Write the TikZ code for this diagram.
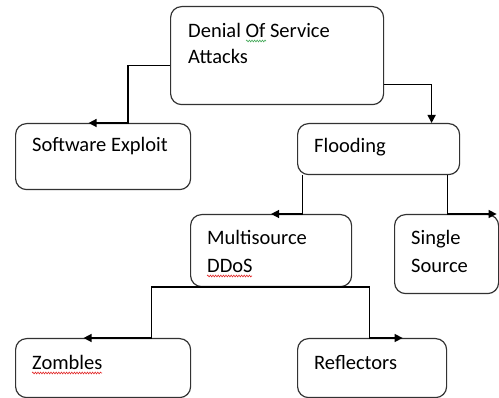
\documentclass[tikz,border=0pt]{standalone}
\usepackage{fontspec}
\setmainfont{Carlito}
\usetikzlibrary{arrows.meta,decorations.pathmorphing,calc}
\definecolor{boxline}{RGB}{50,50,50}
\definecolor{spellgreen}{RGB}{70,170,90}
\definecolor{spellred}{RGB}{225,40,40}
\tikzset{
  box/.style={draw=boxline, line width=1.2pt, rounded corners=11pt,
    anchor=north west, inner sep=0pt},
  txt/.style={anchor=base west, inner sep=0pt, font=\fontsize{20.5}{24}\selectfont},
  conn/.style={draw=black, line width=1.5pt, -{Triangle[length=8pt,width=8pt]}},
  squiggle/.style={line width=0.6pt, decorate,
    decoration={snake, amplitude=0.9pt, segment length=2.6pt}}
}
\begin{document}
\begin{tikzpicture}[x=1pt,y=-1pt]
  \useasboundingbox (0,0) rectangle (499,398);

  % boxes
  \node[box, minimum width=213pt, minimum height=98pt] (dos)   at (170,6)   {};
  \node[box, minimum width=175pt, minimum height=66pt] (sw)    at (15,123)  {};
  \node[box, minimum width=162pt, minimum height=51pt] (flood) at (297,123) {};
  \node[box, minimum width=161pt, minimum height=72pt] (multi) at (190,214) {};
  \node[box, minimum width=104pt, minimum height=79pt] (single) at (394,214) {};
  \node[box, minimum width=175pt, minimum height=59pt] (zomb)  at (15,338)  {};
  \node[box, minimum width=149pt, minimum height=59pt] (refl)  at (297,338) {};

  % labels
  \node[txt] (t1a) at (188,38)  {Denial Of Service};
  \node[txt] (t1b) at (188,64)  {Attacks};
  \node[txt] (t2)  at (32,152)  {Software Exploit};
  \node[txt] (t3)  at (314,153) {Flooding};
  \node[txt] (t4a) at (207,245) {Multisource};
  \node[txt] (t4b) at (207,273) {DDoS};
  \node[txt] (t5a) at (411,245) {Single};
  \node[txt] (t5b) at (411,273) {Source};
  \node[txt] (t6)  at (32,370)  {Zombles};
  \node[txt] (t7)  at (314,370) {Reflectors};

  % spell-check marks
  \draw[squiggle, spellgreen] ($(t1a.base west)+(58,3)$) -- ++(20,0);
  \draw[squiggle, spellred]   ($(t4b.base west)+(0,3)$)  -- ++(45,0);
  \draw[squiggle, spellred]   ($(t6.base west)+(0,3)$)   -- ++(70,0);

  % connectors
  \draw[conn] ([yshift=-10pt]dos.west) -- ++(-42,0) |- ([xshift=-14.5pt]sw.north);
  \draw[conn] ([yshift=-29pt]dos.east) -| ([xshift=53pt]flood.north);
  \draw[conn] ([xshift=-76pt]flood.south) |- (multi.north);
  \draw[conn] ([xshift=69pt]flood.south) |- ([xshift=50pt]single.north);
  \draw[conn] (multi.south) -- ++(-119.5,0) |- ([xshift=-19.5pt]zomb.north);
  \draw[conn] (multi.south) -- ++(98.5,0) |- ([xshift=30.5pt]refl.north);
\end{tikzpicture}
\end{document}
